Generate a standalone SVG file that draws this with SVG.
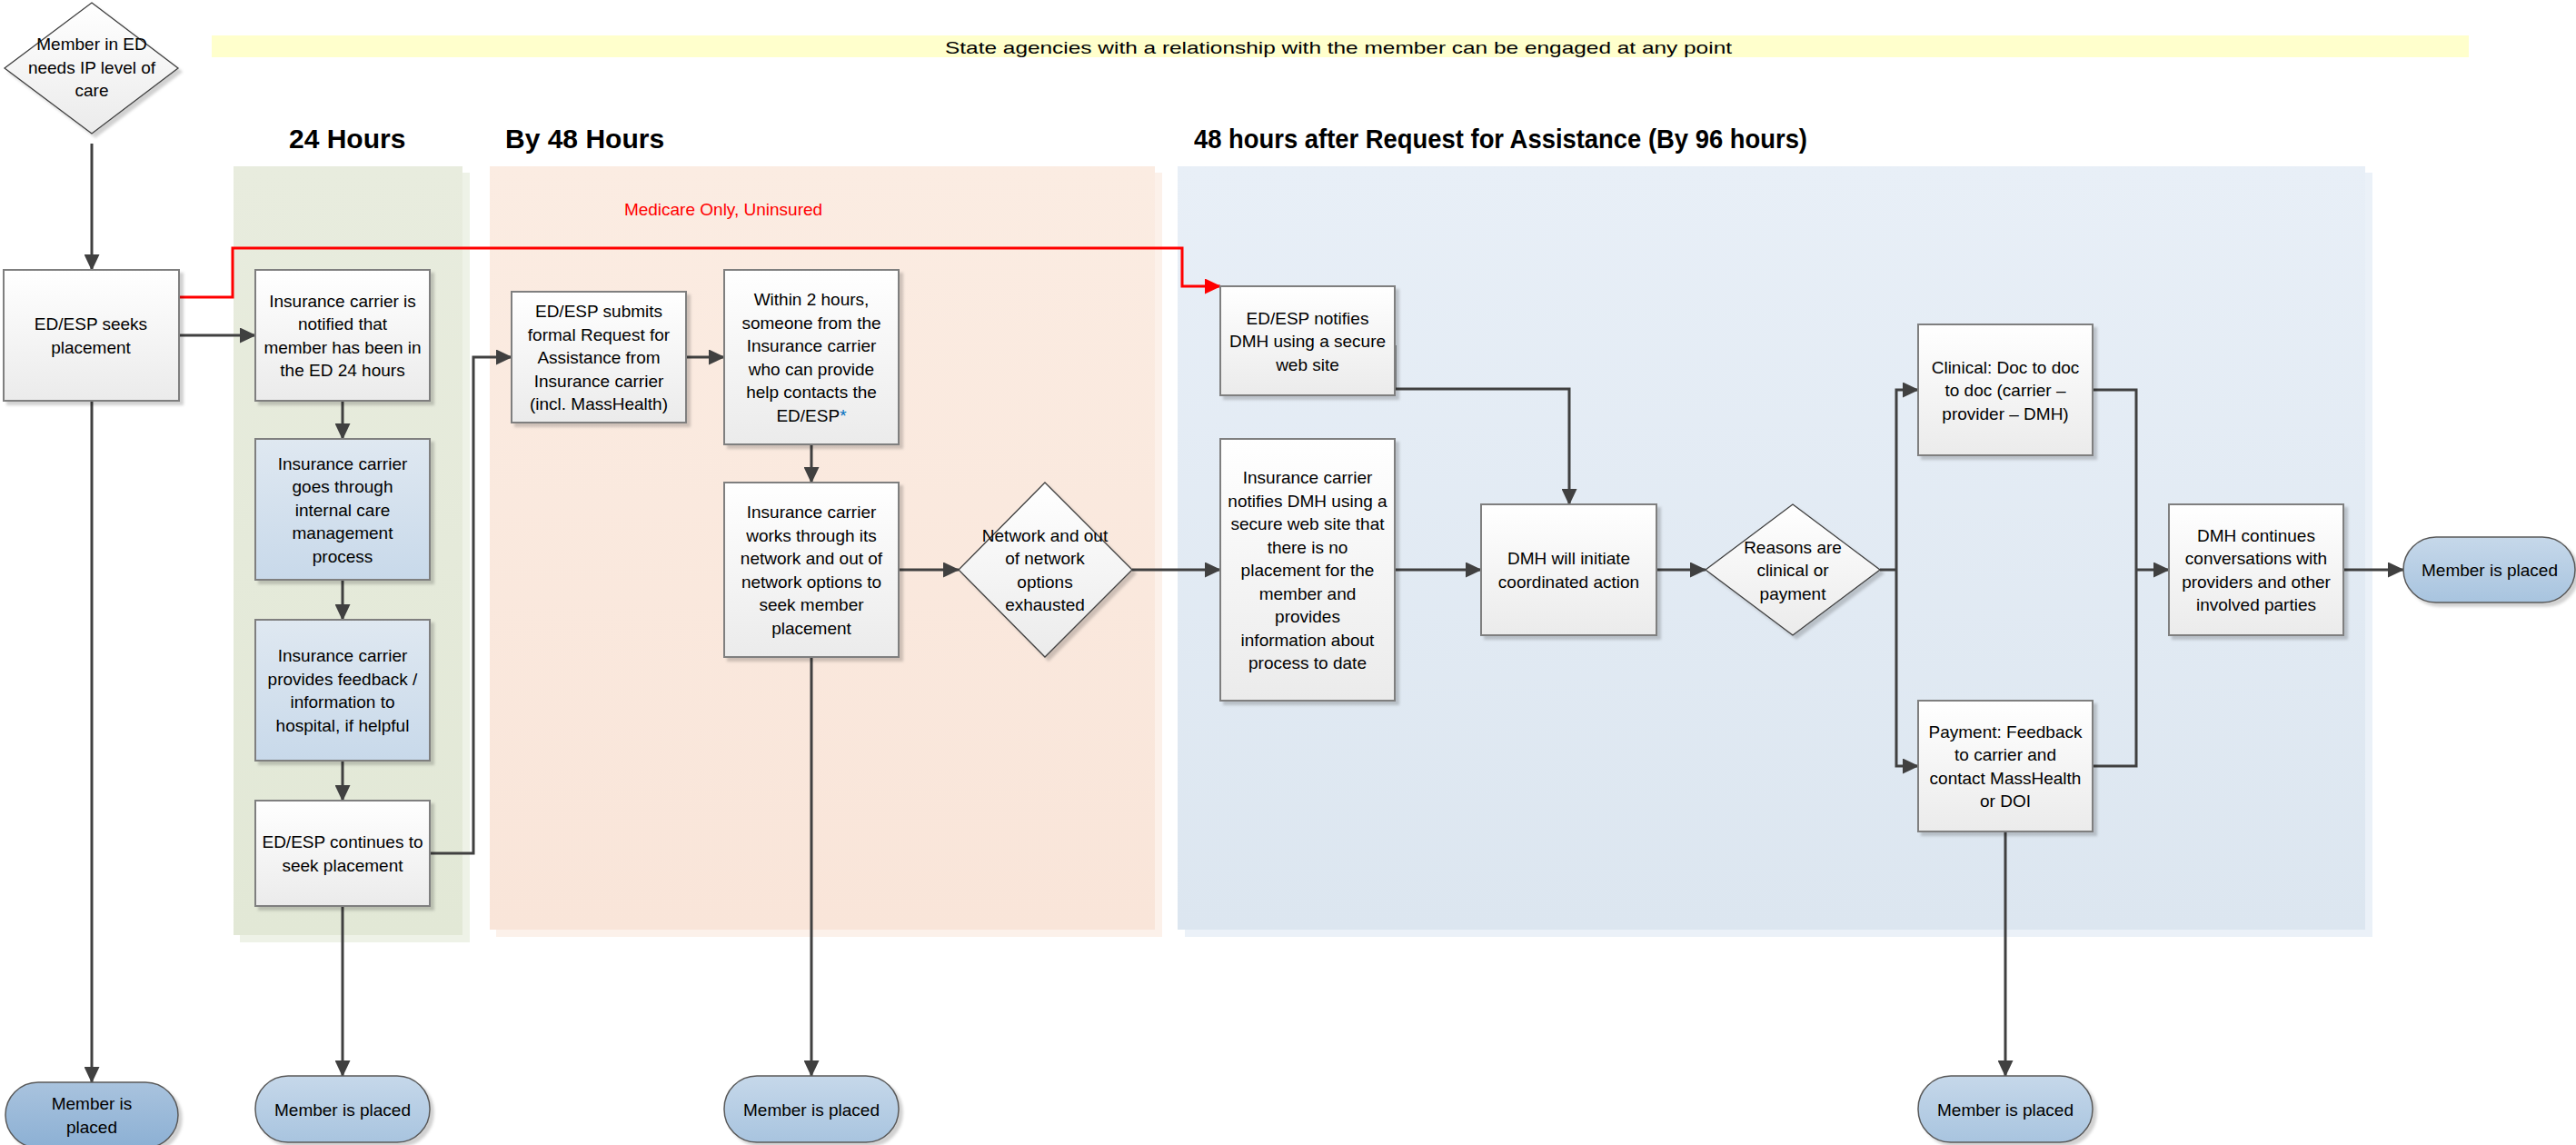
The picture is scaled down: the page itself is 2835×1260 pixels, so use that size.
<svg xmlns="http://www.w3.org/2000/svg" width="2835" height="1260" viewBox="0 0 2835 1260">
<style>
.t{font-family:"Liberation Sans",Arial,sans-serif;font-size:19px;fill:#000;text-anchor:middle}
.h{font-family:"Liberation Sans",Arial,sans-serif;font-size:30px;font-weight:bold;fill:#000}
.box{fill:url(#gProc);stroke:#7f7f7f;stroke-width:2;filter:url(#sh)}
.bbox{fill:url(#gBlue);stroke:#7f7f7f;stroke-width:2;filter:url(#sh)}
.dia{fill:url(#gProc);stroke:#404040;stroke-width:1.3;filter:url(#sh)}
.term{fill:url(#gTerm);stroke:#595959;stroke-width:1.5;filter:url(#sh)}
.con{fill:none;stroke:#404040;stroke-width:3}
.arr{marker-end:url(#ah)}
.red{fill:none;stroke:#ff0000;stroke-width:3;marker-end:url(#ahr)}
</style>
<defs>
<linearGradient id="gProc" x1="0" y1="0" x2="0" y2="1"><stop offset="0" stop-color="#ffffff"/><stop offset="1" stop-color="#ebebeb"/></linearGradient>
<linearGradient id="gBlue" x1="0" y1="0" x2="0" y2="1"><stop offset="0" stop-color="#dfe8f1"/><stop offset="1" stop-color="#c8d9ea"/></linearGradient>
<linearGradient id="gTerm" x1="0" y1="0" x2="0" y2="1"><stop offset="0" stop-color="#c6d8ea"/><stop offset="1" stop-color="#a8c4df"/></linearGradient>
<linearGradient id="gTermD" x1="0" y1="0" x2="0" y2="1"><stop offset="0" stop-color="#a9c3de"/><stop offset="1" stop-color="#8cb0d4"/></linearGradient>
<linearGradient id="gBluePanel" x1="0" y1="0" x2="0" y2="1"><stop offset="0" stop-color="#e8eff7"/><stop offset="1" stop-color="#dce6f0"/></linearGradient>
<linearGradient id="gPinkPanel" x1="0" y1="0" x2="0" y2="1"><stop offset="0" stop-color="#fbece2"/><stop offset="1" stop-color="#f9e5d9"/></linearGradient>
<linearGradient id="gGreenPanel" x1="0" y1="0" x2="0" y2="1"><stop offset="0" stop-color="#e8ecde"/><stop offset="1" stop-color="#e2e8d6"/></linearGradient>
<filter id="sh" x="-10%" y="-10%" width="130%" height="130%"><feDropShadow dx="4" dy="4" stdDeviation="1.5" flood-color="#000" flood-opacity="0.18"/></filter>
<marker id="ah" markerUnits="userSpaceOnUse" markerWidth="18" markerHeight="17" refX="17" refY="8.5" orient="auto"><path d="M0,0 L18,8.5 L0,17 z" fill="#404040"/></marker>
<marker id="ahr" markerUnits="userSpaceOnUse" markerWidth="18" markerHeight="17" refX="17" refY="8.5" orient="auto"><path d="M0,0 L18,8.5 L0,17 z" fill="#ff0000"/></marker>
</defs>
<rect width="2835" height="1260" fill="#ffffff"/>

<g id="panels">
<rect x="264" y="190" width="253" height="847" fill="#eef2e7"/>
<rect x="257" y="183" width="252" height="846" fill="url(#gGreenPanel)"/>
<rect x="546" y="190" width="733" height="841" fill="#fcf1ea"/>
<rect x="539" y="183" width="732" height="840" fill="url(#gPinkPanel)"/>
<rect x="1304" y="190" width="1307" height="841" fill="#ebf1f8"/>
<rect x="1296" y="183" width="1307" height="840" fill="url(#gBluePanel)"/>
</g>

<g id="banner">
<rect x="233" y="39" width="2484" height="24" fill="#ffffcc"/>
<text class="t" x="1473" y="59" font-size="23" textLength="866" lengthAdjust="spacingAndGlyphs">State agencies with a relationship with the member can be engaged at any point</text>
</g>

<g id="headers">
<text class="h" x="318" y="163">24 Hours</text>
<text class="h" x="556" y="163">By 48 Hours</text>
<text class="h" x="1314" y="163" font-size="28" textLength="675" lengthAdjust="spacingAndGlyphs">48 hours after Request for Assistance (By 96 hours)</text>
<text class="t" x="796" y="237" style="fill:#ff0000">Medicare Only, Uninsured</text>
</g>

<g id="connectors">
<path class="con arr" d="M101,158 V297"/>
<path class="con arr" d="M101,441 V1191"/>
<path class="con arr" d="M197,369 H281"/>
<path class="con arr" d="M377,441 V483"/>
<path class="con arr" d="M377,638 V682"/>
<path class="con arr" d="M377,837 V881"/>
<path class="con arr" d="M377,997 V1184"/>
<path class="con arr" d="M473,939 H521 V393 H563"/>
<path class="con arr" d="M755,393 H797"/>
<path class="con arr" d="M893,489 V531"/>
<path class="con arr" d="M989,627 H1055"/>
<path class="con arr" d="M893,723 V1184"/>
<path class="con arr" d="M1246,627 H1343"/>
<path class="con arr" d="M1535,380 V428 H1727 V555"/>
<path class="con arr" d="M1535,627 H1630"/>
<path class="con arr" d="M1823,627 H1877"/>
<path class="con" d="M2069,627 H2087"/>
<path class="con arr" d="M2087,627 V429 H2111"/>
<path class="con arr" d="M2087,627 V843 H2111"/>
<path class="con" d="M2303,429 H2351 V843 H2303"/>
<path class="con arr" d="M2351,627 H2387"/>
<path class="con arr" d="M2579,627 H2645"/>
<path class="con arr" d="M2207,915 V1184"/>
<path class="red" d="M197,327 H256 V273 H1301 V315 H1343"/>
</g>

<g id="n_start"><polygon class="dia" points="101,3 196,75 101,147 5,75"/>
<text class="t" x="101" y="55">Member in ED<tspan x="101" dy="25.5">needs IP level of</tspan><tspan x="101" dy="25.5">care</tspan></text></g>

<g id="n_seek"><rect class="box" x="4" y="297" width="193" height="144"/>
<text class="t" x="100" y="363.25">ED/ESP seeks<tspan x="100" dy="25.5">placement</tspan></text></g>

<g id="n_notified"><rect class="box" x="281" y="297" width="192" height="144"/>
<text class="t" x="377" y="337.75">Insurance carrier  is<tspan x="377" dy="25.5">notified that</tspan><tspan x="377" dy="25.5">member has been in</tspan><tspan x="377" dy="25.5">the ED 24 hours</tspan></text></g>

<g id="n_internal"><rect class="bbox" x="281" y="483" width="192" height="155"/>
<text class="t" x="377" y="516.5">Insurance carrier<tspan x="377" dy="25.5">goes through</tspan><tspan x="377" dy="25.5">internal care</tspan><tspan x="377" dy="25.5">management</tspan><tspan x="377" dy="25.5">process</tspan></text></g>

<g id="n_feedback"><rect class="bbox" x="281" y="682" width="192" height="155"/>
<text class="t" x="377" y="728.25">Insurance carrier<tspan x="377" dy="25.5">provides feedback /</tspan><tspan x="377" dy="25.5">information to</tspan><tspan x="377" dy="25.5">hospital, if helpful</tspan></text></g>

<g id="n_continues"><rect class="box" x="281" y="881" width="192" height="116"/>
<text class="t" x="377" y="933.25">ED/ESP continues to<tspan x="377" dy="25.5">seek placement</tspan></text></g>

<g id="n_submit"><rect class="box" x="563" y="321" width="192" height="144"/>
<text class="t" x="659" y="349">ED/ESP submits<tspan x="659" dy="25.5">formal Request for</tspan><tspan x="659" dy="25.5">Assistance from</tspan><tspan x="659" dy="25.5">Insurance carrier</tspan><tspan x="659" dy="25.5">(incl. MassHealth)</tspan></text></g>

<g id="n_within"><rect class="box" x="797" y="297" width="192" height="192"/>
<text class="t" x="893" y="336.25">Within 2 hours,<tspan x="893" dy="25.5">someone from the</tspan><tspan x="893" dy="25.5">Insurance carrier</tspan><tspan x="893" dy="25.5">who can provide</tspan><tspan x="893" dy="25.5">help contacts the</tspan><tspan x="893" dy="25.5">ED/ESP<tspan style="fill:#0070c0">*</tspan></tspan></text></g>

<g id="n_works"><rect class="box" x="797" y="531" width="192" height="192"/>
<text class="t" x="893" y="570.25">Insurance carrier<tspan x="893" dy="25.5">works through its</tspan><tspan x="893" dy="25.5">network and out of</tspan><tspan x="893" dy="25.5">network options to</tspan><tspan x="893" dy="25.5">seek member</tspan><tspan x="893" dy="25.5">placement</tspan></text></g>

<g id="n_exhausted"><polygon class="dia" points="1150,531 1246,627 1150,723 1055,627"/>
<text class="t" x="1150" y="595.75">Network and out<tspan x="1150" dy="25.5">of network</tspan><tspan x="1150" dy="25.5">options</tspan><tspan x="1150" dy="25.5">exhausted</tspan></text></g>

<g id="n_ednotify"><rect class="box" x="1343" y="315" width="192" height="120"/>
<text class="t" x="1439" y="356.5">ED/ESP notifies<tspan x="1439" dy="25.5">DMH using a secure</tspan><tspan x="1439" dy="25.5">web site</tspan></text></g>

<g id="n_carriernotify"><rect class="box" x="1343" y="483" width="192" height="288"/>
<text class="t" x="1439" y="532">Insurance carrier<tspan x="1439" dy="25.5">notifies DMH using a</tspan><tspan x="1439" dy="25.5">secure web site that</tspan><tspan x="1439" dy="25.5">there is no</tspan><tspan x="1439" dy="25.5">placement for the</tspan><tspan x="1439" dy="25.5">member and</tspan><tspan x="1439" dy="25.5">provides</tspan><tspan x="1439" dy="25.5">information about</tspan><tspan x="1439" dy="25.5">process to date</tspan></text></g>

<g id="n_dmhinit"><rect class="box" x="1630" y="555" width="193" height="144"/>
<text class="t" x="1726.5" y="621.25">DMH will initiate<tspan x="1726.5" dy="25.5">coordinated action</tspan></text></g>

<g id="n_reasons"><polygon class="dia" points="1973,555 2069,627 1973,699 1877,627"/>
<text class="t" x="1973" y="608.5">Reasons are<tspan x="1973" dy="25.5">clinical or</tspan><tspan x="1973" dy="25.5">payment</tspan></text></g>

<g id="n_clinical"><rect class="box" x="2111" y="357" width="192" height="144"/>
<text class="t" x="2207" y="410.5">Clinical: Doc to doc<tspan x="2207" dy="25.5">to doc (carrier –</tspan><tspan x="2207" dy="25.5">provider – DMH)</tspan></text></g>

<g id="n_payment"><rect class="box" x="2111" y="771" width="192" height="144"/>
<text class="t" x="2207" y="811.75">Payment: Feedback<tspan x="2207" dy="25.5">to carrier and</tspan><tspan x="2207" dy="25.5">contact MassHealth</tspan><tspan x="2207" dy="25.5">or DOI</tspan></text></g>

<g id="n_dmhcont"><rect class="box" x="2387" y="555" width="192" height="144"/>
<text class="t" x="2483" y="595.75">DMH continues<tspan x="2483" dy="25.5">conversations with</tspan><tspan x="2483" dy="25.5">providers and other</tspan><tspan x="2483" dy="25.5">involved parties</tspan></text></g>

<g id="n_placed_right"><rect class="term" x="2645" y="591" width="189" height="72" rx="36" ry="36"/>
<text class="t" x="2740" y="634">Member is placed</text></g>

<g id="n_placed_left"><rect class="term" style="fill:url(#gTermD)" x="6" y="1191" width="190" height="72" rx="36" ry="36"/>
<text class="t" x="101" y="1221.25">Member is<tspan x="101" dy="25.5">placed</tspan></text></g>

<g id="n_placed_24"><rect class="term" x="281" y="1184" width="192" height="73" rx="36" ry="36"/>
<text class="t" x="377" y="1227.5">Member is placed</text></g>

<g id="n_placed_48"><rect class="term" x="797" y="1184" width="192" height="73" rx="36" ry="36"/>
<text class="t" x="893" y="1227.5">Member is placed</text></g>

<g id="n_placed_96"><rect class="term" x="2111" y="1184" width="192" height="73" rx="36" ry="36"/>
<text class="t" x="2207" y="1227.5">Member is placed</text></g>
</svg>
